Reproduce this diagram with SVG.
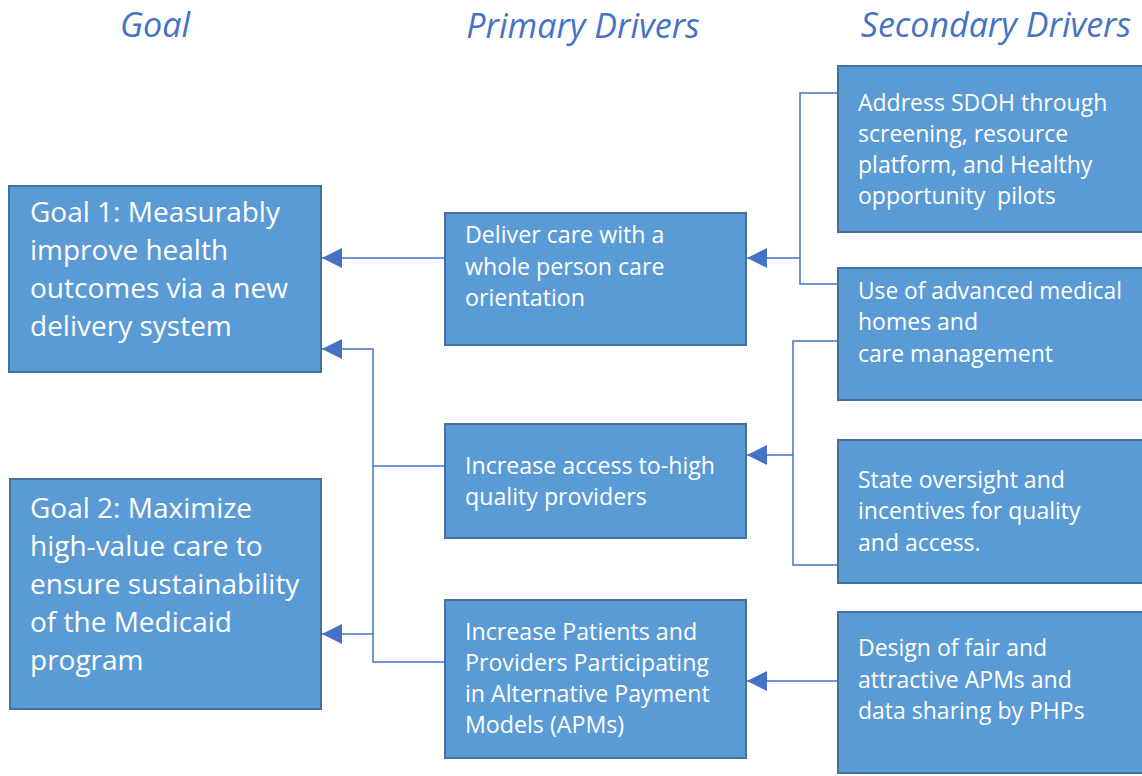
<svg xmlns="http://www.w3.org/2000/svg" width="1142" height="776" viewBox="0 0 1142 776">
<style>
.box{fill:#5B9BD5;stroke:#41719C;stroke-width:2}
.hdr{font-family:"Open Sans",Lato,sans-serif;font-style:italic;font-size:34px;fill:#4472C4}
.g{font-family:"Open Sans",Lato,sans-serif;font-size:28px;fill:#FFFFFF}
.p{font-family:"Open Sans",Lato,sans-serif;font-size:23.2px;fill:#FFFFFF}
.s{font-family:"Open Sans",Lato,sans-serif;font-size:23px;fill:#FFFFFF}
.ln{fill:none;stroke:#4472C4;stroke-width:1.5}
</style>
<defs>
<marker id="arr" viewBox="0 0 10 10" refX="10" refY="5" markerWidth="20" markerHeight="20" markerUnits="userSpaceOnUse" orient="auto">
<path d="M0,0 L10,5 L0,10 z" fill="#4472C4"/>
</marker>
</defs>
<rect width="1142" height="776" fill="#FFFFFF"/>
<g id="headers">
<text class="hdr" x="155" y="37" text-anchor="middle">Goal</text>
<text class="hdr" x="583" y="38" text-anchor="middle">Primary Drivers</text>
<text class="hdr" x="996" y="37" text-anchor="middle">Secondary Drivers</text>
</g>
<g id="connectors">
<path class="ln" d="M445,258 H322" marker-end="url(#arr)"/>
<path class="ln" d="M445,466 H373 V349 H322" marker-end="url(#arr)"/>
<path class="ln" d="M445,662 H373 V634 H322" marker-end="url(#arr)"/>
<path class="ln" d="M373,466 V634"/>
<path class="ln" d="M838,93 H800 V284 H838"/>
<path class="ln" d="M800,258 H747" marker-end="url(#arr)"/>
<path class="ln" d="M838,341 H793 V565 H838"/>
<path class="ln" d="M793,455 H747" marker-end="url(#arr)"/>
<path class="ln" d="M838,681 H747" marker-end="url(#arr)"/>
</g>
<g id="goal1">
<rect class="box" x="9" y="186" width="312" height="186"/>
<text class="g"><tspan x="30" y="222">Goal 1: Measurably</tspan><tspan x="30" y="260">improve health</tspan><tspan x="30" y="298">outcomes via a new</tspan><tspan x="30" y="336">delivery system</tspan></text>
</g>
<g id="goal2">
<rect class="box" x="10" y="479" width="311" height="230"/>
<text class="g"><tspan x="30" y="518">Goal 2: Maximize</tspan><tspan x="30" y="556">high-value care to</tspan><tspan x="30" y="594">ensure sustainability</tspan><tspan x="30" y="632">of the Medicaid</tspan><tspan x="30" y="670">program</tspan></text>
</g>
<g id="primary1">
<rect class="box" x="445" y="213" width="301" height="132"/>
<text class="p"><tspan x="465" y="243">Deliver care with a</tspan><tspan x="465" y="275">whole person care</tspan><tspan x="465" y="306">orientation</tspan></text>
</g>
<g id="primary2">
<rect class="box" x="445" y="424" width="301" height="114"/>
<text class="p"><tspan x="465" y="474">Increase access to-high</tspan><tspan x="465" y="505">quality providers</tspan></text>
</g>
<g id="primary3">
<rect class="box" x="445" y="600" width="301" height="158"/>
<text class="p"><tspan x="465" y="640">Increase Patients and</tspan><tspan x="465" y="671">Providers Participating</tspan><tspan x="465" y="702">in Alternative Payment</tspan><tspan x="465" y="733">Models (APMs)</tspan></text>
</g>
<g id="secondary1">
<rect class="box" x="838" y="66" width="310" height="166"/>
<text class="s"><tspan x="858" y="111">Address SDOH through</tspan><tspan x="858" y="142">screening, resource</tspan><tspan x="858" y="173">platform, and Healthy</tspan><tspan x="858" y="204" xml:space="preserve">opportunity  pilots</tspan></text>
</g>
<g id="secondary2">
<rect class="box" x="838" y="268" width="310" height="132"/>
<text class="s"><tspan x="858" y="299" textLength="264" lengthAdjust="spacingAndGlyphs">Use of advanced medical</tspan><tspan x="858" y="330">homes and</tspan><tspan x="858" y="362">care management</tspan></text>
</g>
<g id="secondary3">
<rect class="box" x="838" y="440" width="310" height="143"/>
<text class="s"><tspan x="858" y="488">State oversight and</tspan><tspan x="858" y="519">incentives for quality</tspan><tspan x="858" y="551">and access.</tspan></text>
</g>
<g id="secondary4">
<rect class="box" x="838" y="612" width="310" height="161"/>
<text class="s"><tspan x="858" y="656">Design of fair and</tspan><tspan x="858" y="688">attractive APMs and</tspan><tspan x="858" y="719">data sharing by PHPs</tspan></text>
</g>
</svg>
